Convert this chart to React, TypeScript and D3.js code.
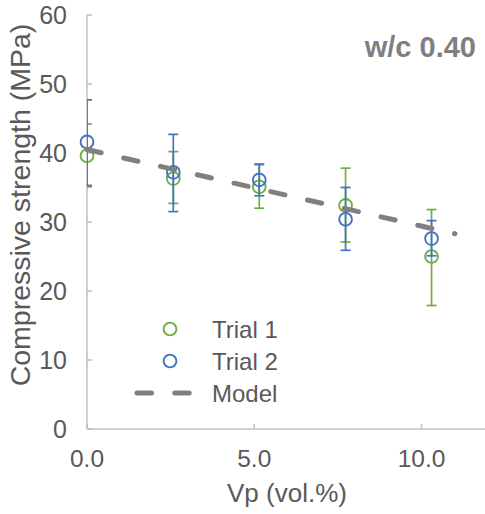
import React from "react";
import * as d3 from "d3";

const vp = [0, 2.58, 5.15, 7.73, 10.3];
const trial1 = [39.6, 36.3, 35.1, 32.4, 25.0];
const trial1Hi = [44.2, 40.2, 38.3, 37.8, 31.8];
const trial1Lo = [35.1, 32.7, 32.0, 27.1, 17.9];
const trial2 = [41.6, 37.2, 36.1, 30.4, 27.6];
const trial2Hi = [47.7, 42.7, 38.4, 35.0, 30.2];
const trial2Lo = [35.3, 31.5, 33.8, 25.9, 25.1];
const modelX = [0, 11];
const modelY = [40.5, 28.3];
const xTicks = [0, 5, 10];
const yTicks = [0, 10, 20, 30, 40, 50, 60];

const W = 485;
const H = 514;
const FONT = "'Liberation Sans', Arial, sans-serif";
const TEXT = "#595959";
const AXIS = "#bfbfbf";
const GREEN = "#70ad47";
const BLUE = "#4472c4";
const GREY = "#808080";

export default function App() {
  const x = d3.scaleLinear().domain([0, 12]).range([87, 87 + 12 * 33.45]);
  const y = d3.scaleLinear().domain([0, 60]).range([429, 15]);
  const line = d3
    .line<number>()
    .x((d, i) => x(modelX[i]))
    .y((d) => y(d));

  const series = [
    { v: trial1, hi: trial1Hi, lo: trial1Lo, c: GREEN },
    { v: trial2, hi: trial2Hi, lo: trial2Lo, c: BLUE },
  ];

  return (
    <svg
      width={W}
      height={H}
      style={{ position: "absolute", left: 0, top: 0, background: "#fff" }}
      fontFamily={FONT}
    >
      <defs>
        <clipPath id="plot">
          <rect x={x(0)} y={0} width={W - x(0)} height={y(0)} />
        </clipPath>
      </defs>
      {/* axes */}
      <line x1={x(0)} x2={W} y1={y(0)} y2={y(0)} stroke={AXIS} strokeWidth={1.5} />
      <line x1={x(0)} x2={x(0)} y1={y(60)} y2={y(0)} stroke={AXIS} strokeWidth={1.5} />
      {yTicks.map((t) => (
        <g key={"y" + t}>
          <line x1={x(0)} x2={x(0) + 5} y1={y(t)} y2={y(t)} stroke={AXIS} strokeWidth={1.5} />
          <text
            x={67}
            y={y(t)}
            textAnchor="end"
            dominantBaseline="central"
            fontSize={25}
            fill={TEXT}
          >
            {t}
          </text>
        </g>
      ))}
      {xTicks.map((t) => (
        <g key={"x" + t}>
          <line x1={x(t)} x2={x(t)} y1={y(0)} y2={y(0) - 5} stroke={AXIS} strokeWidth={1.5} />
          <text x={x(t)} y={467} textAnchor="middle" fontSize={24.5} fill={TEXT}>
            {t.toFixed(1)}
          </text>
        </g>
      ))}
      <text
        transform={`translate(20,205) rotate(-90)`}
        textAnchor="middle"
        dominantBaseline="central"
        fontSize={28.5}
        fill={TEXT}
      >
        Compressive strength (MPa)
      </text>
      <text x={287} y={502} textAnchor="middle" fontSize={26} fill={TEXT}>
        Vp (vol.%)
      </text>
      <text
        x={476}
        y={47}
        textAnchor="end"
        dominantBaseline="central"
        fontSize={29}
        fontWeight="bold"
        fill="#7f7f7f"
      >
        w/c 0.40
      </text>

      {/* series */}
      {series.map((s, si) => (
        <g key={"s" + si}>
          <g clipPath="url(#plot)">
            {vp.map((xv, i) => (
              <g key={i} stroke={s.c} strokeWidth={1.7}>
                <line x1={x(xv)} x2={x(xv)} y1={y(s.hi[i])} y2={y(s.lo[i])} />
                <line x1={x(xv) - 5} x2={x(xv) + 5} y1={y(s.hi[i])} y2={y(s.hi[i])} />
                <line x1={x(xv) - 5} x2={x(xv) + 5} y1={y(s.lo[i])} y2={y(s.lo[i])} />
              </g>
            ))}
          </g>
          {vp.map((xv, i) => (
            <circle
              key={"c" + i}
              cx={x(xv)}
              cy={y(s.v[i])}
              r={6.4}
              fill="none"
              stroke={s.c}
              strokeWidth={1.9}
            />
          ))}
        </g>
      ))}
      <path
        d={line(modelY) || ""}
        fill="none"
        stroke={GREY}
        strokeWidth={5}
        strokeLinecap="round"
        strokeDasharray="14.5 23.2"
      />

      {/* legend */}
      <circle cx={170} cy={329} r={6.4} fill="none" stroke={GREEN} strokeWidth={1.9} />
      <circle cx={170} cy={361} r={6.4} fill="none" stroke={BLUE} strokeWidth={1.9} />
      <line
        x1={137}
        x2={192}
        y1={393}
        y2={393}
        stroke={GREY}
        strokeWidth={5}
        strokeLinecap="round"
        strokeDasharray="14.5 23.2"
      />
      {["Trial 1", "Trial 2", "Model"].map((t, i) => (
        <text
          key={t}
          x={212}
          y={329 + i * 32}
          dominantBaseline="central"
          fontSize={24}
          fill={TEXT}
        >
          {t}
        </text>
      ))}
    </svg>
  );
}
